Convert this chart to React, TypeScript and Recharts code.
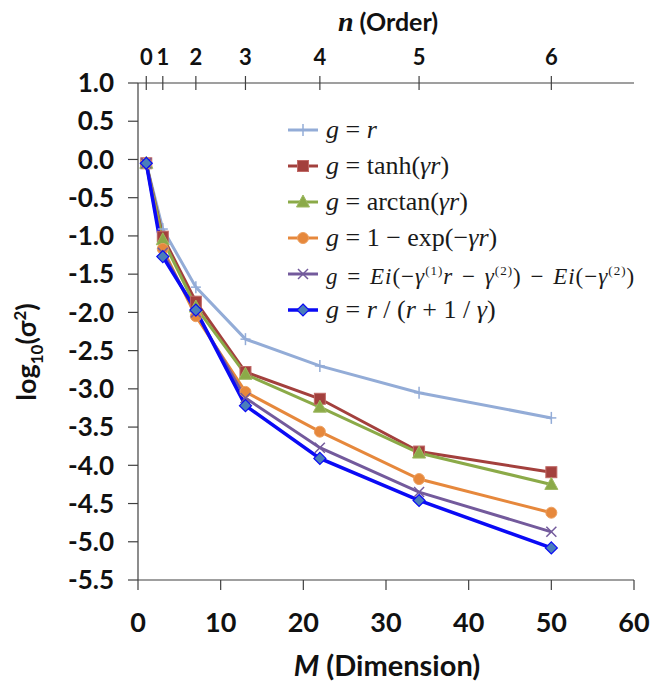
import React from 'react';
import { LineChart, Line, XAxis, YAxis, Legend } from 'recharts';

// ---------- data ----------
const dimensions = [1, 3, 7, 13, 22, 34, 50];
const orders = [0, 1, 2, 3, 4, 5, 6];
const xTicks = [0, 10, 20, 30, 40, 50, 60];
const yTicks = [1.0, 0.5, 0.0, -0.5, -1.0, -1.5, -2.0, -2.5, -3.0, -3.5, -4.0, -4.5, -5.0, -5.5];

const gLinear = [-0.05, -0.91, -1.67, -2.35, -2.7, -3.05, -3.38];
const gTanh = [-0.05, -1.01, -1.86, -2.78, -3.13, -3.82, -4.09];
const gArctan = [-0.05, -1.05, -1.93, -2.81, -3.24, -3.84, -4.25];
const gExp = [-0.05, -1.17, -2.05, -3.04, -3.56, -4.18, -4.62];
const gEi = [-0.05, -1.22, -2.0, -3.12, -3.77, -4.35, -4.87];
const gRational = [-0.05, -1.27, -1.97, -3.22, -3.91, -4.46, -5.08];

const data = dimensions.map((m, i) => ({
  m,
  linear: gLinear[i],
  tanh: gTanh[i],
  arctan: gArctan[i],
  exp: gExp[i],
  ei: gEi[i],
  rational: gRational[i],
}));

// ---------- styles ----------
type Kind = 'plus' | 'square' | 'triangle' | 'circle' | 'cross' | 'diamond';
const SERIES: { key: string; color: string; fill: string; width: number; kind: Kind }[] = [
  { key: 'linear', color: '#93ACD7', fill: '#93ACD7', width: 3, kind: 'plus' },
  { key: 'tanh', color: '#A3403D', fill: '#A3403D', width: 3, kind: 'square' },
  { key: 'arctan', color: '#8BAA48', fill: '#8BAA48', width: 3, kind: 'triangle' },
  { key: 'exp', color: '#E6883C', fill: '#E6883C', width: 3, kind: 'circle' },
  { key: 'ei', color: '#735A9C', fill: '#735A9C', width: 3, kind: 'cross' },
  { key: 'rational', color: '#0A0AF5', fill: '#4A7EBB', width: 3.5, kind: 'diamond' },
];

const AXIS = '#404040';
const SANS = 'Lato, "Open Sans", sans-serif';
const SERIF = '"Liberation Serif", "Times New Roman", serif';

function Marker({ kind, cx, cy, color, fill }: { kind: Kind; cx: number; cy: number; color: string; fill: string }) {
  switch (kind) {
    case 'plus':
      return (
        <g>
          <line x1={cx - 5} x2={cx + 5} y1={cy} y2={cy} stroke={color} strokeWidth={1.5} />
          <line x1={cx} x2={cx} y1={cy - 6} y2={cy + 6} stroke={color} strokeWidth={1.5} />
        </g>
      );
    case 'square':
      return <rect x={cx - 5.5} y={cy - 5.5} width={11} height={11} fill={fill} stroke="#C06A67" strokeWidth={1} />;
    case 'triangle':
      return <polygon points={`${cx},${cy - 7} ${cx + 6.5},${cy + 5} ${cx - 6.5},${cy + 5}`} fill={fill} stroke="#9DB860" strokeWidth={1} />;
    case 'circle':
      return <circle cx={cx} cy={cy} r={5.5} fill={fill} stroke="#EDA060" strokeWidth={1} />;
    case 'cross':
      return (
        <g>
          <line x1={cx - 5} x2={cx + 5} y1={cy - 5} y2={cy + 5} stroke={color} strokeWidth={1.5} />
          <line x1={cx - 5} x2={cx + 5} y1={cy + 5} y2={cy - 5} stroke={color} strokeWidth={1.5} />
        </g>
      );
    case 'diamond':
    default:
      return <polygon points={`${cx},${cy - 6} ${cx + 6},${cy} ${cx},${cy + 6} ${cx - 6},${cy}`} fill={fill} stroke={color} strokeWidth={1.2} />;
  }
}

const TOP_TICK = 7;
const TOP_MARGIN = 19;

function TopTick(props: any) {
  const { x, y, payload } = props;
  const axisY = y + TOP_TICK + TOP_MARGIN;
  const idx = dimensions.indexOf(payload.value);
  return (
    <g>
      <line x1={x} x2={x} y1={axisY - 7} y2={axisY + 7} stroke={AXIS} strokeWidth={1.2} />
      <text x={x} y={y} dy="0.35em" textAnchor="middle" fontFamily={SANS} fontWeight={700} fontSize={22} fill="#111">
        {orders[idx]}
      </text>
    </g>
  );
}

const SUP = { fontSize: 13 };
const legendLabels: React.ReactNode[] = [
  <span><i>g</i> = <i>r</i></span>,
  <span><i>g</i> = tanh(<i>γr</i>)</span>,
  <span><i>g</i> = arctan(<i>γr</i>)</span>,
  <span><i>g</i> = 1 − exp(−<i>γr</i>)</span>,
  <span style={{ fontSize: 23, letterSpacing: 1, wordSpacing: 2 }}>
    <i>g</i> = <i>Ei</i>(−<i>γ</i><sup style={SUP}>(1)</sup><i>r</i> − <i>γ</i><sup style={SUP}>(2)</sup>) − <i>Ei</i>(−<i>γ</i><sup style={SUP}>(2)</sup>)
  </span>,
  <span><i>g</i> = <i>r</i> / (<i>r</i> + 1 / <i>γ</i>)</span>,
];

function LegendBox() {
  return (
    <div style={{ fontFamily: SERIF, fontSize: 26, color: '#1a1a1a', whiteSpace: 'nowrap' }}>
      {SERIES.map((s, i) => (
        <div key={s.key} style={{ display: 'flex', alignItems: 'center', height: 36 }}>
          <svg width={30} height={36} style={{ flex: 'none' }}>
            <line x1={0} x2={30} y1={18} y2={18} stroke={s.color} strokeWidth={s.width} />
            <Marker kind={s.kind} cx={15} cy={18} color={s.color} fill={s.fill} />
          </svg>
          <div style={{ marginLeft: 8, lineHeight: '36px' }}>{legendLabels[i]}</div>
        </div>
      ))}
    </div>
  );
}

export default function App() {
  return (
    <div style={{ position: 'absolute', left: 0, top: 0, width: 654, height: 681, overflow: 'hidden', background: '#fff' }}>
      <LineChart width={654} height={681} data={data} margin={{ top: 0, right: 20, bottom: 0, left: 0 }}>
        <XAxis
          xAxisId="bottom"
          type="number"
          dataKey="m"
          domain={[0, 60]}
          ticks={xTicks}
          interval={0}
          allowDataOverflow
          height={101}
          tickSize={10}
          tickMargin={23}
          stroke={AXIS}
          strokeWidth={1.2}
          tick={{ fontFamily: SANS, fontWeight: 700, fontSize: 27, fill: '#111' }}
        />
        <XAxis
          xAxisId="top"
          orientation="top"
          type="number"
          dataKey="m"
          domain={[0, 60]}
          ticks={dimensions}
          interval={0}
          allowDataOverflow
          height={83}
          tickSize={TOP_TICK}
          tickMargin={TOP_MARGIN}
          tickLine={false}
          stroke={AXIS}
          strokeWidth={1.2}
          tick={<TopTick />}
        />
        <YAxis
          yAxisId="left"
          type="number"
          domain={[-5.5, 1]}
          ticks={yTicks}
          interval={0}
          allowDataOverflow
          width={138}
          tickSize={10}
          tickMargin={14}
          stroke={AXIS}
          strokeWidth={1.2}
          tickFormatter={(v: number) => v.toFixed(1)}
          tick={{ fontFamily: SANS, fontWeight: 700, fontSize: 26, fill: '#111' }}
        />
        <YAxis
          yAxisId="right"
          orientation="right"
          type="number"
          domain={[-5.5, 1]}
          width={0}
          tick={false}
          tickLine={false}
          stroke={AXIS}
          strokeWidth={1.2}
        />
        {SERIES.map((s) => (
          <Line
            key={s.key}
            xAxisId="bottom"
            yAxisId="left"
            type="linear"
            dataKey={s.key}
            stroke={s.color}
            strokeWidth={s.width}
            isAnimationActive={false}
            dot={(p: any) => (
              <Marker key={`${s.key}-${p.index}`} kind={s.kind} cx={p.cx} cy={p.cy} color={s.color} fill={s.fill} />
            )}
            activeDot={false}
          />
        ))}
        <Legend
          layout="vertical"
          align="center"
          verticalAlign="middle"
          wrapperStyle={{ left: 288, top: 112, width: 366 }}
          content={() => <LegendBox />}
        />
      </LineChart>
      <div
        style={{
          position: 'absolute', left: 28, top: 352, transform: 'translate(-50%, -50%) rotate(-90deg)',
          fontFamily: SANS, fontWeight: 700, fontSize: 27, color: '#111', whiteSpace: 'nowrap',
        }}
      >
        log<sub style={{ fontSize: 17 }}>10</sub>(σ<sup style={{ fontSize: 17 }}>2</sup>)
      </div>
      <div
        style={{
          position: 'absolute', left: 387, top: 664, transform: 'translate(-50%, -50%)',
          fontFamily: SANS, fontWeight: 700, fontSize: 29, color: '#111', whiteSpace: 'nowrap',
        }}
      >
        <i>M</i> (Dimension)
      </div>
      <div
        style={{
          position: 'absolute', left: 388, top: 22, transform: 'translate(-50%, -50%)',
          fontFamily: SANS, fontWeight: 700, fontSize: 25, color: '#111', whiteSpace: 'nowrap',
        }}
      >
        <i style={{ fontFamily: SERIF, fontSize: 28 }}>n</i> (Order)
      </div>
    </div>
  );
}
